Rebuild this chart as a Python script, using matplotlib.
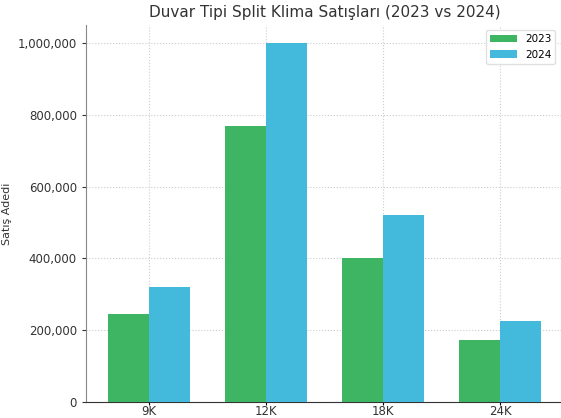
import matplotlib
matplotlib.use("Agg")
import matplotlib.pyplot as plt
import numpy as np
from matplotlib.ticker import FuncFormatter

categories = ["9K", "12K", "18K", "24K"]
sales_2023 = [245000, 770000, 400000, 172000]
sales_2024 = [320000, 1000000, 520000, 225000]
series_labels = ["2023", "2024"]

fig = plt.figure(figsize=(5.61, 4.18), dpi=100)
ax = fig.add_axes([86/561, 16/418, 477/561, 377/418])

x = np.arange(len(categories))
w = 0.35
ax.bar(x - w/2, sales_2023, w, color="#3DB562", label=series_labels[0], zorder=3)
ax.bar(x + w/2, sales_2024, w, color="#43B9DB", label=series_labels[1], zorder=3)

ax.set_xticks(x)
ax.set_xticklabels(categories, fontsize=8.5, color="#333333")
ax.yaxis.set_major_formatter(FuncFormatter(lambda v, p: f"{int(v):,}"))
ax.tick_params(axis="y", labelsize=8.5, colors="#333333", length=3)
ax.tick_params(axis="x", length=2, pad=0.5)
ax.set_ylabel("Satış Adedi", fontsize=8, color="#333333")
ax.yaxis.set_label_coords(-0.155, 0.5)
ax.set_title("Duvar Tipi Split Klima Satışları (2023 vs 2024)", fontsize=11, color="#333333", pad=6)
ax.grid(True, linestyle=":", color="#cccccc", linewidth=0.8, zorder=0)
ax.spines["top"].set_visible(False)
ax.spines["right"].set_visible(False)
ax.spines["left"].set_color("#888888")
ax.spines["bottom"].set_color("#333333")
ax.legend(loc="upper right", bbox_to_anchor=(0.995, 1.0), fontsize=7.5, handlelength=2.5, framealpha=0.9, edgecolor="#dddddd")

fig.savefig("out.png", dpi=100)
